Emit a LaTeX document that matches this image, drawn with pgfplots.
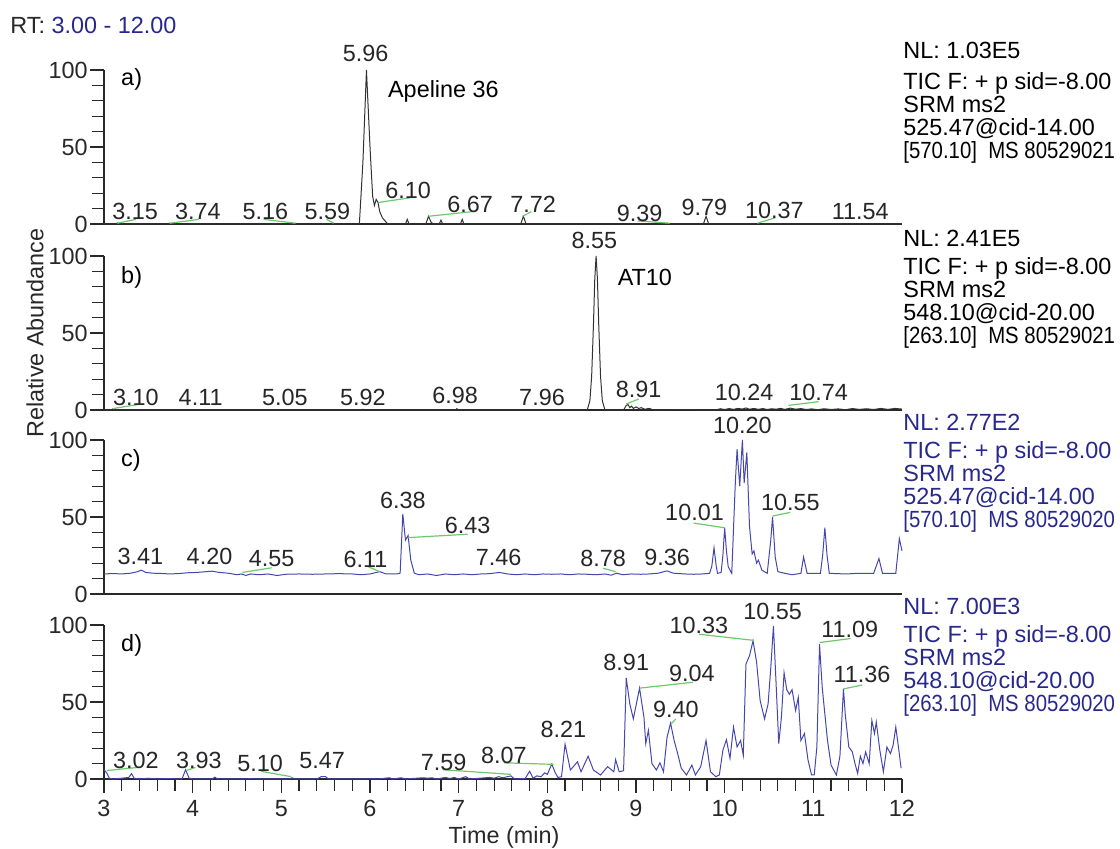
\documentclass[border=0pt]{standalone}
\usepackage{fontspec}
\setmainfont{Liberation Sans}
\usepackage{graphicx}
\usepackage{pgfplots}
\pgfplotsset{compat=1.18}
\definecolor{navy}{RGB}{40,40,140}
\definecolor{btrace}{RGB}{70,70,175}
\definecolor{lgreen}{RGB}{110,200,110}
\definecolor{ktrace}{RGB}{50,50,50}
\definecolor{axc}{RGB}{40,40,40}
\newcommand{\tf}{\fontsize{11.7}{13}\selectfont}
\tikzset{
  lb/.style={font=\tf, inner sep=0pt, text=black!85},
  gl/.style={color=lgreen, line width=0.6pt},
}
\pgfplotsset{
  panel/.style={scale only axis, width=399pt, height=77pt, xmin=3, xmax=12, ymin=0, ymax=100,
    axis lines*=left, ytick={0,50,100}, minor y tick num=4, xtick=\empty,
    tick align=outside, major tick length=7pt, minor tick length=6pt, clip=false,
    axis line style={line width=0.6pt, color=axc}, every tick/.style={line width=0.6pt, color=axc},
    ticklabel style={font=\tf, text=axc}, yticklabel style={inner sep=1pt},
    /pgf/number format/assume math mode=true, anchor=south west},
}
\newcommand{\rt}[3][black]{\node[anchor=base west, inner sep=0pt, font=\tf, text=#1] at (451.5pt,{424.5pt-#2*0.5pt-4.2pt}) {#3};}
\newcommand{\sq}[1]{\scalebox{0.87}[1]{#1}}
\begin{document}
\begin{tikzpicture}
\path[use as bounding box] (0,0) rectangle (560pt,424.5pt);
% ---------------- a
\begin{axis}[panel, at={(52pt,312.5pt)}, x axis line style={line width=1.3pt}]
\addplot[ktrace, line width=0.5pt, no marks] coordinates {(3,0)(3.13,0)(3.15,0.6)(3.17,0)(3.72,0)(3.74,0.5)(3.76,0)(5.14,0)(5.16,0.4)(5.18,0)(5.57,0)(5.59,0.4)(5.61,0)(5.88,0)(5.92,40)(5.96,100)(6.00,50)(6.03,18)(6.05,12)(6.07,16)(6.09,14)(6.11,8)(6.14,4)(6.17,2)(6.20,0)(6.40,0)(6.42,3)(6.44,0)(6.63,0)(6.66,5)(6.69,1)(6.72,0)(6.78,0)(6.80,2.5)(6.82,0)(7.02,0)(7.04,3)(7.06,0)(7.70,0)(7.73,5)(7.76,0)(9.76,0)(9.79,5)(9.82,0)(12,0)};
\addplot[gl, no marks] coordinates {(3.15,0.5)(3.36,3)};
\addplot[gl, no marks] coordinates {(3.74,0.5)(4.07,3)};
\addplot[gl, no marks] coordinates {(4.80,3)(5.16,0.5)};
\addplot[gl, no marks] coordinates {(5.51,3)(5.59,0.5)};
\addplot[gl, no marks] coordinates {(6.10,14)(6.45,17)};
\addplot[gl, no marks] coordinates {(6.66,5)(7.15,8)};
\addplot[gl, no marks] coordinates {(7.72,5)(7.82,8)};
\addplot[gl, no marks] coordinates {(9.02,2)(9.38,0.5)};
\addplot[gl, no marks] coordinates {(10.37,0.5)(10.57,4)};
\node[lb] at (axis cs:3.35,8) {3.15};
\node[lb] at (axis cs:4.06,8) {3.74};
\node[lb] at (axis cs:4.82,8) {5.16};
\node[lb] at (axis cs:5.52,8) {5.59};
\node[lb] at (axis cs:6.43,22) {6.10};
\node[lb] at (axis cs:7.13,13) {6.67};
\node[lb] at (axis cs:7.84,13) {7.72};
\node[lb] at (axis cs:9.04,7) {9.39};
\node[lb] at (axis cs:9.77,11) {9.79};
\node[lb] at (axis cs:10.56,9) {10.37};
\node[lb] at (axis cs:11.53,8) {11.54};
\node[lb] at (axis cs:5.95,111) {5.96};
\node[lb, anchor=west, text=black] at (axis cs:6.20,86) {Apeline 36};
\node[lb, anchor=west, text=black] at (axis cs:3.19,94) {a)};
\end{axis}
% ---------------- b
\begin{axis}[panel, at={(52pt,219.5pt)}]
\addplot[ktrace, line width=0.5pt, no marks] coordinates {(3,0)(3.09,0)(3.10,0.7)(3.11,0)(5.91,0)(5.92,0.5)(5.93,0)(6.96,0)(6.98,0.8)(7.00,0)(8.45,0)(8.48,6)(8.50,22)(8.52,55)(8.535,85)(8.55,100)(8.565,85)(8.58,55)(8.60,22)(8.62,6)(8.65,0)(8.86,0)(8.89,3)(8.91,3.5)(8.93,1.5)(8.95,2.5)(8.97,1)(9.00,2)(9.03,1)(9.06,1.5)(9.10,0.5)(9.15,1)(9.20,0)(9.50,0.3)(9.90,0)(9.95,0.8)(10.00,0.3)(10.05,0.9)(10.10,0.4)(10.15,1)(10.20,0.6)(10.24,1.3)(10.28,0.5)(10.33,1)(10.38,0.4)(10.43,0.9)(10.48,0.3)(10.53,0.8)(10.58,0.5)(10.63,1)(10.68,0.4)(10.74,1.2)(10.80,0.5)(10.86,0.9)(10.92,0.3)(10.98,0.7)(11.05,0.2)(11.12,0.8)(11.20,0.3)(11.28,0.7)(11.36,0.2)(11.44,0.9)(11.52,0.4)(11.60,0.8)(11.68,0.3)(11.76,1)(11.84,0.4)(11.92,1)(12,0.6)};
\addplot[gl, no marks] coordinates {(3.11,1)(3.38,3.5)};
\addplot[gl, no marks] coordinates {(8.89,3.9)(9.03,7.1)};
\addplot[gl, no marks] coordinates {(10.72,3)(11.06,5.4)};
\node[lb] at (axis cs:3.36,8.4) {3.10};
\node[lb] at (axis cs:4.09,8.4) {4.11};
\node[lb] at (axis cs:5.04,8.4) {5.05};
\node[lb] at (axis cs:5.92,8.4) {5.92};
\node[lb] at (axis cs:6.96,9.5) {6.98};
\node[lb] at (axis cs:7.94,8.4) {7.96};
\node[lb] at (axis cs:9.03,13.6) {8.91};
\node[lb] at (axis cs:10.22,11.5) {10.24};
\node[lb] at (axis cs:11.06,11.5) {10.74};
\node[lb] at (axis cs:8.53,110) {8.55};
\node[lb, anchor=west, text=black] at (axis cs:8.79,86) {AT10};
\node[lb, anchor=west, text=black] at (axis cs:3.19,86) {b)};
\end{axis}
% ---------------- c
\begin{axis}[panel, at={(52pt,127.5pt)}]
\addplot[btrace, line width=0.5pt, no marks] coordinates {(3.00,13)(3.10,13.3)(3.20,13)(3.30,13.5)(3.38,14.5)(3.42,15.5)(3.47,14)(3.55,13.5)(3.65,13.3)(3.75,13)(3.85,13.3)(3.95,13.8)(4.05,14)(4.15,14.5)(4.22,14.8)(4.30,14)(4.40,13.5)(4.50,12.5)(4.55,13)(4.60,12)(4.65,13)(4.75,12.5)(4.85,13)(4.95,12)(5.05,12.8)(5.20,13)(5.35,12.8)(5.50,13)(5.65,13.2)(5.80,13)(5.90,12.5)(6.00,13)(6.11,14.5)(6.18,13)(6.30,13)(6.34,13.5)(6.37,52)(6.40,35)(6.43,38)(6.46,22)(6.50,13.5)(6.55,12.5)(6.65,13)(6.75,12)(6.85,13)(6.95,12.5)(7.05,13)(7.15,12.5)(7.25,13)(7.35,13.2)(7.46,14)(7.55,13)(7.65,12.5)(7.75,13)(7.85,12.5)(7.95,13)(8.05,12.8)(8.15,13)(8.25,12.5)(8.35,13)(8.45,12.8)(8.55,12.5)(8.65,13)(8.72,12.2)(8.78,13.5)(8.85,12.5)(8.95,13)(9.05,12.8)(9.15,13)(9.25,13.5)(9.35,15)(9.42,13.5)(9.55,13)(9.65,12.8)(9.75,13)(9.83,13.4)(9.855,18)(9.88,30)(9.905,18)(9.92,13.4)(9.96,14)(9.98,25)(10.00,43)(10.02,28)(10.04,17.7)(10.08,13.4)(10.12,72)(10.14,94)(10.17,70)(10.20,100)(10.22,72)(10.25,92)(10.28,44)(10.31,26)(10.33,28)(10.36,20)(10.38,22)(10.42,15.5)(10.48,13.4)(10.52,35)(10.54,50)(10.57,24)(10.60,14.5)(10.68,13.4)(10.76,12.5)(10.86,13.4)(10.89,24)(10.93,13.4)(11.08,13.4)(11.105,25)(11.13,43)(11.155,25)(11.18,13.4)(11.37,13)(11.50,13.4)(11.68,13.4)(11.74,23)(11.78,13.4)(11.93,13.4)(11.97,36)(12.00,28)};
\addplot[gl, no marks] coordinates {(4.56,14)(4.89,17)};
\addplot[gl, no marks] coordinates {(5.98,17.7)(6.11,14.5)};
\addplot[gl, no marks] coordinates {(6.43,36.6)(7.10,38.8)};
\addplot[gl, no marks] coordinates {(8.63,16.7)(8.77,14.5)};
\addplot[gl, no marks] coordinates {(9.65,46)(10.00,43)};
\addplot[gl, no marks] coordinates {(10.54,50.6)(10.74,53)};
\node[lb] at (axis cs:3.41,24.2) {3.41};
\node[lb] at (axis cs:4.19,24.2) {4.20};
\node[lb] at (axis cs:4.89,22.7) {4.55};
\node[lb] at (axis cs:5.95,22.7) {6.11};
\node[lb] at (axis cs:7.45,24) {7.46};
\node[lb] at (axis cs:8.63,23.3) {8.78};
\node[lb] at (axis cs:9.35,24) {9.36};
\node[lb] at (axis cs:6.37,61) {6.38};
\node[lb] at (axis cs:7.10,44.4) {6.43};
\node[lb] at (axis cs:9.66,53) {10.01};
\node[lb] at (axis cs:10.74,59.7) {10.55};
\node[lb] at (axis cs:10.20,109.7) {10.20};
\node[lb, anchor=west, text=black] at (axis cs:3.19,87) {c)};
\end{axis}
% ---------------- d
\begin{axis}[panel, at={(52pt,35pt)}, xtick={3,4,...,12}, minor x tick num=4]
\addplot[btrace, line width=0.5pt, no marks] coordinates {(3.00,6)(3.03,4)(3.06,0.5)(3.10,0)(3.20,0.5)(3.28,1)(3.31,3.5)(3.34,0.5)(3.40,0)(3.50,0.5)(3.60,0)(3.70,0.3)(3.88,0)(3.92,6)(3.96,0.5)(4.00,0)(4.22,0)(4.25,1.2)(4.28,0)(4.60,0)(4.65,0.3)(4.70,0)(5.10,0)(5.12,0.8)(5.15,0)(5.40,0)(5.45,1.5)(5.50,1.5)(5.53,0)(6.10,0)(6.15,0.4)(6.22,0.8)(6.26,0)(6.35,0.8)(6.40,0)(6.60,0.8)(6.65,0.5)(6.70,0.8)(6.75,0)(6.85,1)(6.90,0.3)(6.95,1)(7.00,0)(7.08,1.5)(7.12,0)(7.35,1)(7.40,0.5)(7.45,1.5)(7.50,0.8)(7.55,1.5)(7.59,2)(7.63,0)(7.75,0.3)(7.80,5)(7.84,0.5)(7.88,2)(7.93,1.5)(7.97,4)(8.00,3)(8.05,9.7)(8.09,4)(8.12,1)(8.16,1.5)(8.20,22.6)(8.26,5.8)(8.34,11.2)(8.38,4.7)(8.46,14.8)(8.52,5.8)(8.60,2.6)(8.68,8)(8.75,4.7)(8.77,12.6)(8.81,4.7)(8.86,5.4)(8.89,65.6)(8.93,48.8)(8.97,39)(9.04,59)(9.09,40)(9.11,23)(9.14,31.6)(9.18,10)(9.23,5.8)(9.27,10.5)(9.31,4.7)(9.35,27)(9.39,36.3)(9.43,25)(9.47,16.5)(9.51,7)(9.57,2.6)(9.63,9)(9.67,2.6)(9.73,8)(9.79,25)(9.84,4.7)(9.90,1.5)(9.94,2.6)(9.98,18.7)(10.02,25.6)(10.06,13.4)(10.10,33.7)(10.14,20.8)(10.18,25)(10.21,15.3)(10.24,74.6)(10.28,80)(10.32,89.7)(10.36,76)(10.40,51)(10.45,39)(10.49,48.8)(10.52,72)(10.55,99.4)(10.58,62)(10.61,23)(10.64,40)(10.67,69)(10.70,58)(10.73,55)(10.76,58)(10.80,44.5)(10.83,53)(10.86,25)(10.90,29.5)(10.94,12.3)(10.98,2.6)(11.01,2.6)(11.04,20.8)(11.07,87.5)(11.10,59.6)(11.13,42.2)(11.16,25)(11.20,9)(11.26,2.6)(11.30,14.8)(11.34,58.5)(11.36,42)(11.40,20.8)(11.44,17.6)(11.47,10)(11.50,3.6)(11.53,14.8)(11.56,10)(11.59,17.6)(11.63,10)(11.66,38)(11.69,29.5)(11.71,37)(11.75,18.7)(11.79,4.7)(11.83,20.8)(11.87,16.5)(11.90,22)(11.93,33.7)(11.96,20.8)(11.99,7)};
\addplot[gl, no marks] coordinates {(3.03,5.5)(3.38,7.5)};
\addplot[gl, no marks] coordinates {(3.93,5.5)(4.03,7.5)};
\addplot[gl, no marks] coordinates {(4.77,5)(5.11,1.5)};
\addplot[gl, no marks] coordinates {(6.82,6)(7.59,3)};
\addplot[gl, no marks] coordinates {(7.51,10.5)(8.07,9.5)};
\addplot[gl, no marks] coordinates {(9.04,59)(9.64,62.8)};
\addplot[gl, no marks] coordinates {(9.40,36)(9.45,39)};
\addplot[gl, no marks] coordinates {(9.71,94)(10.33,90)};
\addplot[gl, no marks] coordinates {(11.07,88.6)(11.42,91.2)};
\addplot[gl, no marks] coordinates {(11.34,58.5)(11.55,61)};
\node[lb] at (axis cs:3.36,12) {3.02};
\node[lb] at (axis cs:4.07,12) {3.93};
\node[lb] at (axis cs:4.76,10) {5.10};
\node[lb] at (axis cs:5.46,12) {5.47};
\node[lb] at (axis cs:6.83,11) {7.59};
\node[lb] at (axis cs:7.51,15) {8.07};
\node[lb] at (axis cs:8.18,32) {8.21};
\node[lb] at (axis cs:8.89,75.7) {8.91};
\node[lb] at (axis cs:9.63,68.8) {9.04};
\node[lb] at (axis cs:9.45,45) {9.40};
\node[lb] at (axis cs:9.71,99.4) {10.33};
\node[lb] at (axis cs:10.54,108.5) {10.55};
\node[lb] at (axis cs:11.41,96.8) {11.09};
\node[lb] at (axis cs:11.55,68.2) {11.36};
\node[lb, anchor=west, text=black] at (axis cs:3.19,86.5) {d)};
\end{axis}
% ---------------- texts
\node[anchor=west, inner sep=0pt, font=\tf, text=axc] at (5pt,412pt) {RT: \textcolor{navy}{3.00 - 12.00}};
\node[rotate=90, inner sep=0pt, font=\tf, text=axc] at (17.5pt,258pt) {Relative Abundance};
\node[inner sep=0pt, font=\tf, text=axc] at (252pt,6pt) {Time (min)};
\rt{50}{NL: 1.03E5}
\rt{81}{TIC F: + p sid=-8.00}
\rt{104}{SRM ms2}
\rt{127}{525.47@cid-14.00}
\rt{150}{\sq{[570.10]\ \ MS 80529021}}
\rt{238}{NL: 2.41E5}
\rt{266}{TIC F: + p sid=-8.00}
\rt{289}{SRM ms2}
\rt{312}{548.10@cid-20.00}
\rt{335}{\sq{[263.10]\ \ MS 80529021}}
\rt[navy]{422}{NL: 2.77E2}
\rt[navy]{450}{TIC F: + p sid=-8.00}
\rt[navy]{473}{SRM ms2}
\rt[navy]{496}{525.47@cid-14.00}
\rt[navy]{519}{\sq{[570.10]\ \ MS 80529020}}
\rt[navy]{606}{NL: 7.00E3}
\rt[navy]{634}{TIC F: + p sid=-8.00}
\rt[navy]{657}{SRM ms2}
\rt[navy]{680}{548.10@cid-20.00}
\rt[navy]{703}{\sq{[263.10]\ \ MS 80529020}}
\end{tikzpicture}
\end{document}
